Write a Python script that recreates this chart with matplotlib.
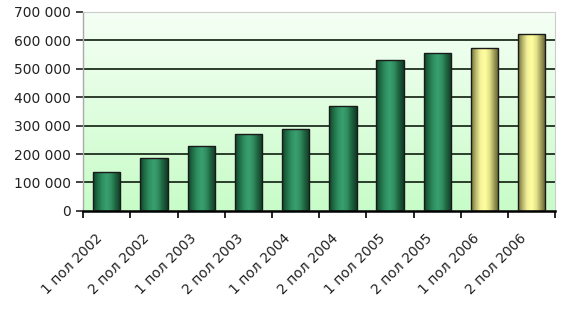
import numpy as np
import matplotlib
matplotlib.use("Agg")
import matplotlib.pyplot as plt
import matplotlib.transforms as mtransforms
from matplotlib.colors import LinearSegmentedColormap
from matplotlib.ticker import FuncFormatter

categories = ["1 пол 2002", "2 пол 2002", "1 пол 2003", "2 пол 2003", "1 пол 2004",
              "2 пол 2004", "1 пол 2005", "2 пол 2005", "1 пол 2006", "2 пол 2006"]
values = [137000, 186000, 229000, 271000, 288000, 369000, 531000, 554000, 573000, 623000]
forecast = [False, False, False, False, False, False, False, False, True, True]
y_ticks = [0, 100000, 200000, 300000, 400000, 500000, 600000, 700000]

fig = plt.figure(figsize=(5.62, 3.12), dpi=100)
ax = fig.add_axes([0.148, 0.324, 0.840, 0.638])

x = np.arange(len(categories))
ax.set_xlim(-0.5, len(categories) - 0.5)
ax.set_ylim(0, 700000)

# background gradient (light green at bottom to near white at top)
bg = LinearSegmentedColormap.from_list("bg", ["#c8fcc8", "#f6fff6"])
grad = np.linspace(0, 1, 256).reshape(-1, 1)
ax.imshow(grad, aspect="auto", cmap=bg, origin="lower",
          extent=[0, 1, 0, 1], transform=ax.transAxes, zorder=0)

# gridlines
for t in y_ticks[1:-1]:
    ax.axhline(t, color="#1e2e1e", lw=1.3, zorder=1)

green_cmap = LinearSegmentedColormap.from_list(
    "g", ["#10402a", "#1f6e45", "#2f9060", "#3aa070", "#2f8a5c", "#1c5e3c", "#0e3a24"])
yellow_cmap = LinearSegmentedColormap.from_list(
    "y", ["#6e6c3a", "#b8b66a", "#f4f29a", "#ffff9e", "#e2e088", "#9c9a58", "#5e5c30"])
hgrad = np.linspace(0, 1, 256).reshape(1, -1)

bars = ax.bar(x, values, width=0.58, color="none", edgecolor="#1a1a1a",
              linewidth=1.0, zorder=3)
for b, f in zip(bars, forecast):
    bx, by = b.get_x(), b.get_y()
    bw, bh = b.get_width(), b.get_height()
    im = ax.imshow(hgrad, aspect="auto", cmap=yellow_cmap if f else green_cmap,
                   extent=[bx, bx + bw, by, by + bh], zorder=2)
    im.set_clip_path(b)

ax.set_xlim(-0.5, len(categories) - 0.5)
ax.set_ylim(0, 700000)

ax.set_yticks(y_ticks)
ax.yaxis.set_major_formatter(FuncFormatter(lambda v, p: f"{int(v):,}".replace(",", " ")))
ax.set_xticks(x)
ax.set_xticklabels(categories, rotation=45, ha="right", rotation_mode="anchor")
ax.set_xticks(np.arange(-0.5, len(categories)), minor=True)
ax.tick_params(axis="x", which="major", length=0, pad=8, labelsize=10, colors="#222222")
ax.tick_params(axis="x", which="minor", length=5, width=1.2, direction="out", color="black")
ax.tick_params(axis="y", length=5, width=1.2, direction="out", labelsize=10,
               colors="#222222", pad=4)
offset = mtransforms.ScaledTranslation(-12 / 100, -9 / 100, fig.dpi_scale_trans)
for lab in ax.get_xticklabels():
    lab.set_color("#222222")
    lab.set_transform(lab.get_transform() + offset)

ax.spines["left"].set_color("#aaaaaa")
ax.spines["left"].set_linewidth(1.0)
ax.spines["bottom"].set_color("black")
ax.spines["bottom"].set_linewidth(1.8)
ax.spines["top"].set_color("#cccccc")
ax.spines["right"].set_color("#cccccc")

fig.savefig("out.png", dpi=100, facecolor="white")
